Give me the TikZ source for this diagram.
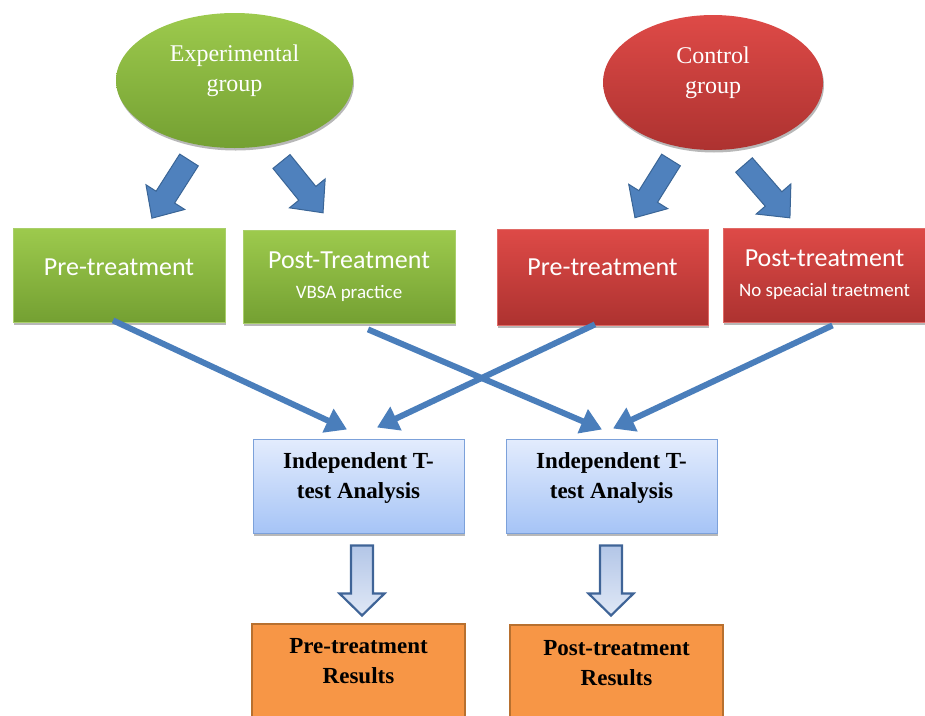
\documentclass[tikz,border=0pt]{standalone}
\usepackage{fontspec}
\setmainfont{Liberation Serif}
\newfontfamily\calfont{Carlito}
\usetikzlibrary{shapes.geometric,arrows.meta,shadows}

\definecolor{grTop}{HTML}{9DCA4D}
\definecolor{grBot}{HTML}{74A032}
\definecolor{grEdge}{HTML}{A9CF6A}
\definecolor{rdTop}{HTML}{DE4A47}
\definecolor{rdBot}{HTML}{AD3230}
\definecolor{rdEdge}{HTML}{E06A66}
\definecolor{arrowBlue}{HTML}{4F81BD}
\definecolor{arrowEdge}{HTML}{3A6596}
\definecolor{connBlue}{HTML}{4A7EBB}
\definecolor{anTop}{HTML}{E3ECFD}
\definecolor{anBot}{HTML}{A6C4F6}
\definecolor{anEdge}{HTML}{7CA1DA}
\definecolor{hollowEdge}{HTML}{3F6497}
\definecolor{hollowTop}{HTML}{B3C6E7}
\definecolor{hollowBot}{HTML}{E0E8F6}
\definecolor{resFill}{HTML}{F79646}
\definecolor{resEdge}{HTML}{B8702F}

\tikzset{
  softshadow/.style={drop shadow={shadow xshift=1pt,shadow yshift=-2.5pt,opacity=0.28,fill=black}},
  group/.style={ellipse, inner sep=0pt, minimum height=135pt, softshadow},
  grouptext/.style={text=white, align=center, inner sep=0pt,
    font=\fontsize{24}{30}\selectfont},
  stage/.style={rectangle, inner sep=0pt, text=white, align=center,
    font=\calfont\fontsize{26}{30}\selectfont, softshadow, line width=0.8pt},
  greenstage/.style={stage, top color=grTop, bottom color=grBot, draw=grEdge},
  redstage/.style={stage, top color=rdTop, bottom color=rdBot, draw=rdEdge},
  subline/.style={},
  analysis/.style={rectangle, inner sep=0pt, minimum width=211pt, minimum height=94pt,
    top color=anTop, bottom color=anBot, draw=anEdge, line width=1pt, softshadow},
  antext/.style={align=center, inner sep=0pt, font=\bfseries\fontsize{23}{30}\selectfont},
  result/.style={rectangle, inner sep=0pt, minimum width=213pt, minimum height=130pt,
    fill=resFill, draw=resEdge, line width=2pt},
  restext/.style={align=center, inner sep=0pt, font=\bfseries\fontsize{23}{30}\selectfont},
  conn/.style={draw=connBlue, line width=6pt, -{Triangle[length=21pt,width=25pt]}},
  fatarrow/.pic={
    \path[fill=arrowBlue, draw=arrowEdge, line width=1pt, line join=miter]
      (0,11) -- ({#1-25},11) -- ({#1-25},23) -- (#1,0) -- ({#1-25},-23)
      -- ({#1-25},-11) -- (0,-11) -- cycle;
  },
  hollowdown/.pic={
    \path[top color=hollowTop, bottom color=hollowBot, draw=hollowEdge,
      line width=2.2pt, line join=miter]
      (-11,0) -- (11,0) -- (11,-48) -- (22.5,-48) -- (0,-70)
      -- (-22.5,-48) -- (-11,-48) -- cycle;
  }
}

\begin{document}
\begin{tikzpicture}[x=1pt,y=1pt]
\useasboundingbox (0,0) rectangle (925,-715);
\clip (0,0) rectangle (925,-715);

% group ellipses
\node[group, minimum width=237pt, top color=grTop, bottom color=grBot] (egrp) at (234.5,-80.5) {};
\node[grouptext] (egrpt) at ([yshift=10pt]egrp.center) {Experimental\\group};
\node[group, minimum width=220pt, top color=rdTop, bottom color=rdBot] (cgrp) at (713,-82.5) {};
\node[grouptext] (cgrpt) at ([yshift=10pt]cgrp.center) {Control\\group};

% block arrows from each group to its two stages
\pic[rotate=-122.5] at (189,-160) {fatarrow=69};
\pic[rotate=-51] at (281.5,-161.5) {fatarrow=66};
\pic[rotate=-122] at (671,-160) {fatarrow=68};
\pic[rotate=-49] at (744,-165) {fatarrow=70};

% treatment stages
\node[greenstage, minimum width=212pt, minimum height=94pt, text height=10pt, text depth=10pt]
  (gpre) at (119,-275) {Pre-treatment};
\node[greenstage, minimum width=212pt, minimum height=93pt]
  (gpost) at (349,-276.5) {Post-Treatment\\{\fontsize{19}{24}\selectfont VBSA practice}};
\node[redstage, minimum width=211pt, minimum height=96pt, text height=8pt, text depth=12pt]
  (rpre) at (602.5,-277) {Pre-treatment};
\node[redstage, minimum width=203pt, minimum height=94pt]
  (rpost) at (824.5,-275) {Post-treatment\\{\fontsize{19}{24}\selectfont No speacial traetment}};

% analysis boxes
\node[analysis] (ta) at (358.5,-486) {};
\node[antext] (tat) at ([yshift=8pt]ta.center) {Independent T-\\test Analysis};
\node[analysis] (tb) at (611.5,-486) {};
\node[antext] (tbt) at ([yshift=8pt]tb.center) {Independent T-\\test Analysis};

% connectors from the stages to the analyses
\draw[conn] ([xshift=-6pt,yshift=2pt]gpre.south) -- ([xshift=-11.5pt,yshift=9pt]ta.north);
\draw[conn] ([xshift=19pt,yshift=-6pt]gpost.south) -- ([xshift=-9.5pt,yshift=9pt]tb.north);
\draw[conn] ([xshift=-7.5pt,yshift=1pt]rpre.south) -- ([xshift=18.5pt,yshift=11pt]ta.north);
\draw[conn] ([xshift=8pt,yshift=-3pt]rpost.south) -- ([xshift=1.5pt,yshift=10pt]tb.north);

% result boxes
\node[result, anchor=north] (ra) at (358.5,-623) {};
\node[restext, anchor=north] (rat) at ([yshift=-15pt]ra.north) {Pre-treatment\\Results};
\node[result, anchor=north] (rb) at (616.5,-624) {};
\node[restext, anchor=north] (rbt) at ([yshift=-16pt]rb.north) {Post-treatment\\Results};

% hollow arrows from the analyses to the results
\pic at ([xshift=3.5pt,yshift=-12pt]ta.south) {hollowdown};
\pic at ([xshift=-0.5pt,yshift=-12pt]tb.south) {hollowdown};
\end{tikzpicture}
\end{document}
